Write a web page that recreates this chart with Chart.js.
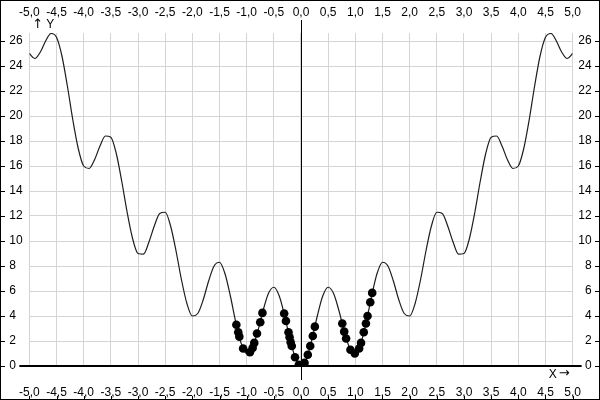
<!DOCTYPE html>
<html>
<head>
<meta charset="utf-8">
<title>Chart</title>
<script src="https://cdn.jsdelivr.net/npm/chart.js@4/dist/chart.umd.min.js"></script>
<style>
    body{ margin:0; background:#fff; }
    #myChart{ display:block; }
</style>
</head>
<body>
<canvas id="myChart" width="600" height="400"></canvas>
<script>

// curve, every 0.1
const curveX = [
    -5.0,-4.9,-4.8,-4.7,-4.6,-4.5,-4.4,-4.3,-4.2,-4.1,
    -4.0,-3.9,-3.8,-3.7,-3.6,-3.5,-3.4,-3.3,-3.2,-3.1,
    -3.0,-2.9,-2.8,-2.7,-2.6,-2.5,-2.4,-2.3,-2.2,-2.1,
    -2.0,-1.9,-1.8,-1.7,-1.6,-1.5,-1.4,-1.3,-1.2,-1.1,
    -1.0,-0.9,-0.8,-0.7,-0.6,-0.5,-0.4,-0.3,-0.2,-0.1,
    0.0,
    0.1,0.2,0.3,0.4,0.5,0.6,0.7,0.8,0.9,1.0,
    1.1,1.2,1.3,1.4,1.5,1.6,1.7,1.8,1.9,2.0,
    2.1,2.2,2.3,2.4,2.5,2.6,2.7,2.8,2.9,3.0,
    3.1,3.2,3.3,3.4,3.5,3.6,3.7,3.8,3.9,4.0,
    4.1,4.2,4.3,4.4,4.5,4.6,4.7,4.8,4.9,5.0
]
const curveY = [
    25.0,24.6,25.1,26.0,26.6,26.3,24.8,22.4,19.7,17.4,
    16.0,15.8,16.5,17.6,18.4,18.3,17.0,14.8,12.3,10.2,
    9.0,8.95,9.9,11.2,12.2,12.3,11.2,9.2,6.9,5.0,
    4.0,4.2,5.3,6.8,8.0,8.3,7.4,5.6,3.5,1.8,
    1.0,1.4,2.7,4.4,5.8,6.3,5.6,4.0,2.1,0.6,
    0.0,
    0.6,2.1,4.0,5.6,6.3,5.8,4.4,2.7,1.4,1.0,
    1.8,3.5,5.6,7.4,8.3,8.0,6.8,5.3,4.2,4.0,
    5.0,6.9,9.2,11.2,12.3,12.2,11.2,9.9,8.95,9.0,
    10.2,12.3,14.8,17.0,18.3,18.4,17.6,16.5,15.8,16.0,
    17.4,19.7,22.4,24.8,26.3,26.6,26.0,25.1,24.6,25.0
]

// black dots
const dotX = [
    -1.19,-1.155,-1.135,-1.065,-0.94,-0.89,-0.86,-0.81,-0.75,-0.71,
    -0.31,-0.277,-0.23,-0.21,-0.19,-0.17,-0.11,-0.04,-0.01,0.03,0.065,0.125,0.17,0.217,0.255,
    0.76,0.795,0.83,0.91,0.99,1.07,1.105,1.155,1.195,1.225,1.275,1.31
]
const dotY = [
    3.3,2.7,2.35,1.4,1.1,1.45,1.85,2.6,3.5,4.25,
    4.2,3.6,2.7,2.3,1.9,1.6,0.7,0.1,0.0,0.05,0.25,0.9,1.6,2.4,3.15,
    3.4,2.75,2.2,1.3,1.0,1.4,1.85,2.7,3.4,4.0,5.1,5.85
]

// tick labels on the Y axes
const yTicks = [0, 2, 4, 6, 8, 10, 12, 14, 16, 18, 20, 22, 24, 26]

const xMin = -5, xMax = 5, xStep = 0.5
const yMin = 0, yMax = 26.64

Chart.defaults.font.family = "'Liberation Sans', Arial, sans-serif"
Chart.defaults.font.size = 12
Chart.defaults.color = '#000'

function commaLabel(v){
    return v.toFixed(1).replace('.', ',')
}

function setYTicks(scale){
    scale.ticks = yTicks.map(v => ({value: v}))
}

// frame, zero axes, edge ticks, axis names
const decor = {
    id: 'decor',
    beforeDatasetsDraw(chart){
        const c = chart.ctx
        const sx = chart.scales.x, sy = chart.scales.y
        const a = chart.chartArea
        const px0 = Math.round(sx.getPixelForValue(0)) + 0.5
        const py0 = Math.round(sy.getPixelForValue(0))
        c.save()
        c.strokeStyle = '#000'
        c.lineWidth = 1
        c.beginPath()
        c.moveTo(px0, a.top - 13)
        c.lineTo(px0, a.bottom + 14)
        c.stroke()
        c.lineWidth = 2
        c.beginPath()
        c.moveTo(a.left - 10, py0)
        c.lineTo(a.right + 9, py0)
        c.stroke()
        c.restore()
    },
    afterDraw(chart){
        const c = chart.ctx
        const sx = chart.scales.x, sy = chart.scales.y
        const a = chart.chartArea
        const w = chart.width, h = chart.height
        c.save()
        c.strokeStyle = '#000'
        c.lineWidth = 1
        c.strokeRect(0.5, 0.5, w - 1, h - 1)
        c.beginPath()
        sy.ticks.forEach(t => {
            const y = Math.round(sy.getPixelForValue(t.value)) + 0.5
            c.moveTo(0, y); c.lineTo(5, y)
            c.moveTo(w - 5, y); c.lineTo(w, y)
        })
        sx.ticks.forEach(t => {
            const x = Math.round(sx.getPixelForValue(t.value)) + 0.5
            c.moveTo(x, h - 4); c.lineTo(x, h)
        })
        c.stroke()
        c.fillStyle = '#000'
        c.textBaseline = 'middle'
        c.textAlign = 'left'
        c.font = "13px 'DejaVu Sans', sans-serif"
        c.fillText('\u2191', a.left + 3, a.top - 8)
        c.fillText('\u2192', a.right - 14, a.bottom + 8)
        c.font = "12px 'Liberation Sans', Arial, sans-serif"
        c.fillText('Y', a.left + 17, a.top - 8)
        c.fillText('X', a.right - 24, a.bottom + 9)
        c.restore()
    }
}

const ctx = document.getElementById('myChart')

const chart = new Chart(ctx, {
    type: 'scatter',
    data: {
        datasets: [
            {
                label: 'points',
                data: dotX.map((x, i) => ({x: x, y: dotY[i]})),
                backgroundColor: '#000',
                borderColor: '#000',
                borderWidth: 0,
                pointRadius: 4.3,
                order: 0
            },
            {
                label: 'f(x)',
                data: curveX.map((x, i) => ({x: x, y: curveY[i]})),
                showLine: true,
                borderColor: '#1e1e1e',
                borderWidth: 1.2,
                pointRadius: 0,
                cubicInterpolationMode: 'monotone',
                order: 1
            }
        ]
    },
    options: {
        responsive: false,
        animation: false,
        layout: { padding: { left: 6, right: 7, top: 0, bottom: 0 } },
        plugins: {
            legend: { display: false },
            tooltip: { enabled: false }
        },
        scales: {
            x: {
                type: 'linear', position: 'bottom',
                min: xMin, max: xMax,
                grid: { color: '#d4d4d4', drawTicks: false },
                border: { display: false },
                ticks: { stepSize: xStep, autoSkip: false, maxRotation: 0, padding: 19, callback: commaLabel },
                afterFit(s){ s.height = 34 }
            },
            x2: {
                type: 'linear', position: 'top',
                min: xMin, max: xMax,
                grid: { display: false, drawTicks: false },
                border: { display: false },
                ticks: { stepSize: xStep, autoSkip: false, maxRotation: 0, padding: 13, callback: commaLabel },
                afterFit(s){ s.height = 33 }
            },
            y: {
                type: 'linear', position: 'left',
                min: yMin, max: yMax,
                grid: { color: '#d4d4d4', drawTicks: false },
                border: { display: false },
                ticks: { crossAlign: 'far', padding: 4 },
                afterBuildTicks: setYTicks,
                afterFit(s){ s.width = 20 }
            },
            y2: {
                type: 'linear', position: 'right',
                min: yMin, max: yMax,
                grid: { display: false, drawTicks: false },
                border: { display: false },
                ticks: { crossAlign: 'far', padding: 4 },
                afterBuildTicks: setYTicks,
                afterFit(s){ s.width = 19 }
            }
        }
    },
    plugins: [decor]
})

</script>
</body>
</html>
